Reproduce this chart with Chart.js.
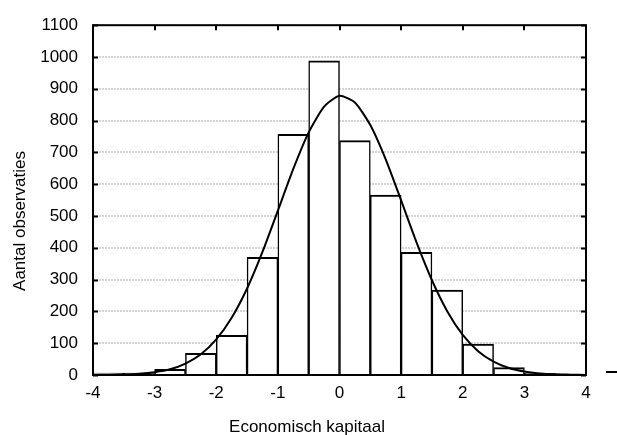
<!DOCTYPE html>
<html>
<head>
<meta charset="utf-8">
<script src="https://cdn.jsdelivr.net/npm/chart.js@4"></script>
<style>
  html, body { margin: 0; padding: 0; background: #fff; }
  #wrap { width: 617px; height: 435px; }
</style>
</head>
<body>
<div id="wrap"><canvas id="chart" width="617" height="435"></canvas></div>
<script>
/* ================= DATA ================= */
const bins = ["-4 – -3.5", "-3.5 – -3", "-3 – -2.5", "-2.5 – -2", "-2 – -1.5", "-1.5 – -1",
              "-1 – -0.5", "-0.5 – 0", "0 – 0.5", "0.5 – 1", "1 – 1.5", "1.5 – 2",
              "2 – 2.5", "2.5 – 3", "3 – 3.5", "3.5 – 4"];
const counts = [6, 6, 18, 68, 125, 370, 757, 988, 737, 566, 386, 267, 97, 23, 5, 0];

const curveX = [-4, -3.75, -3.5, -3.25, -3, -2.75, -2.5, -2.25, -2, -1.75, -1.5, -1.25,
                -1, -0.75, -0.5, -0.25, 0, 0.25, 0.5, 0.75, 1, 1.25, 1.5, 1.75,
                2, 2.25, 2.5, 2.75, 3, 3.25, 3.5, 3.75, 4];
const curveY = [0, 1, 2, 4, 9, 18, 36, 65, 112, 180, 272, 387,
                517, 648, 763, 844, 878, 857, 786, 678, 549, 417, 298, 200,
                126, 75, 42, 22, 11, 5, 2, 1, 0];

const xTicks = [-4, -3, -2, -1, 0, 1, 2, 3, 4];
const yMax = 1100, yStep = 100;

const xTitle = "Economisch kapitaal";
const yTitle = "Aantal observaties";

const FONT = "'Liberation Sans', Arial, sans-serif";

/* ================= FRAME + TITLES ================= */
const framePlugin = {
  id: "frame",
  afterDatasetsDraw(chart) {
    const {ctx, chartArea: a, scales: {x2, y}} = chart;
    ctx.save();
    ctx.strokeStyle = "#000";
    ctx.lineWidth = 2;
    ctx.strokeRect(a.left, a.top, a.right - a.left, a.bottom - a.top);

    // inward ticks
    const t = 5;
    ctx.beginPath();
    y.ticks.forEach(tk => {
      const py = Math.round(y.getPixelForValue(tk.value)) + 0.5;
      ctx.moveTo(a.left, py); ctx.lineTo(a.left + t, py);
      ctx.moveTo(a.right, py); ctx.lineTo(a.right - t, py);
    });
    x2.ticks.forEach(tk => {
      const px = Math.round(x2.getPixelForValue(tk.value));
      ctx.moveTo(px, a.top); ctx.lineTo(px, a.top + t);
    });
    ctx.stroke();

    // stray dash right of the plot
    ctx.beginPath();
    ctx.moveTo(a.right + 20, a.bottom - 3);
    ctx.lineTo(a.right + 31, a.bottom - 3);
    ctx.stroke();

    // axis titles
    ctx.fillStyle = "#000";
    ctx.font = "17px " + FONT;
    ctx.textAlign = "center";
    ctx.textBaseline = "middle";
    ctx.fillText(xTitle, 307, 427);
    ctx.translate(20, 221);
    ctx.rotate(-Math.PI / 2);
    ctx.fillText(yTitle, 0, 0);
    ctx.restore();
  }
};

/* ================= CHART ================= */
new Chart(document.getElementById("chart"), {
  data: {
    labels: bins,
    datasets: [
      {
        type: "line",
        xAxisID: "x2",
        data: curveX.map((v, i) => ({x: v, y: curveY[i]})),
        borderColor: "#000",
        borderWidth: 2,
        pointRadius: 0,
        tension: 0.2,
        fill: false,
        order: 0
      },
      {
        type: "bar",
        xAxisID: "x",
        data: counts,
        backgroundColor: "#fff",
        borderColor: "#000",
        borderWidth: {top: 2, left: 1.5, right: 1.5, bottom: 0},
        barPercentage: 1,
        categoryPercentage: 1,
        grouped: false,
        order: 1
      }
    ]
  },
  options: {
    responsive: false,
    animation: false,
    layout: {padding: {left: 0, top: 25, right: 31, bottom: 0}},
    plugins: {legend: {display: false}, tooltip: {enabled: false}},
    scales: {
      x: {
        type: "category",
        offset: true,
        display: false
      },
      x2: {
        type: "linear",
        position: "bottom",
        min: -4, max: 4,
        offset: false,
        afterBuildTicks: s => { s.ticks = xTicks.map(v => ({value: v})); },
        afterFit: s => { s.height = 60; },
        grid: {display: false, drawTicks: false},
        border: {display: false},
        ticks: {color: "#000", font: {family: FONT, size: 17}, padding: 8, maxRotation: 0,
                callback: v => String(v)}
      },
      y: {
        min: 0, max: yMax,
        afterFit: s => { s.width = 93; },
        grid: {color: "#d4d4d4", lineWidth: 2, drawTicks: false},
        border: {display: false, dash: [2, 1]},
        ticks: {stepSize: yStep, color: "#000", font: {family: FONT, size: 17}, padding: 15,
                callback: v => String(v)}
      }
    }
  },
  plugins: [framePlugin]
});
</script>
</body>
</html>
